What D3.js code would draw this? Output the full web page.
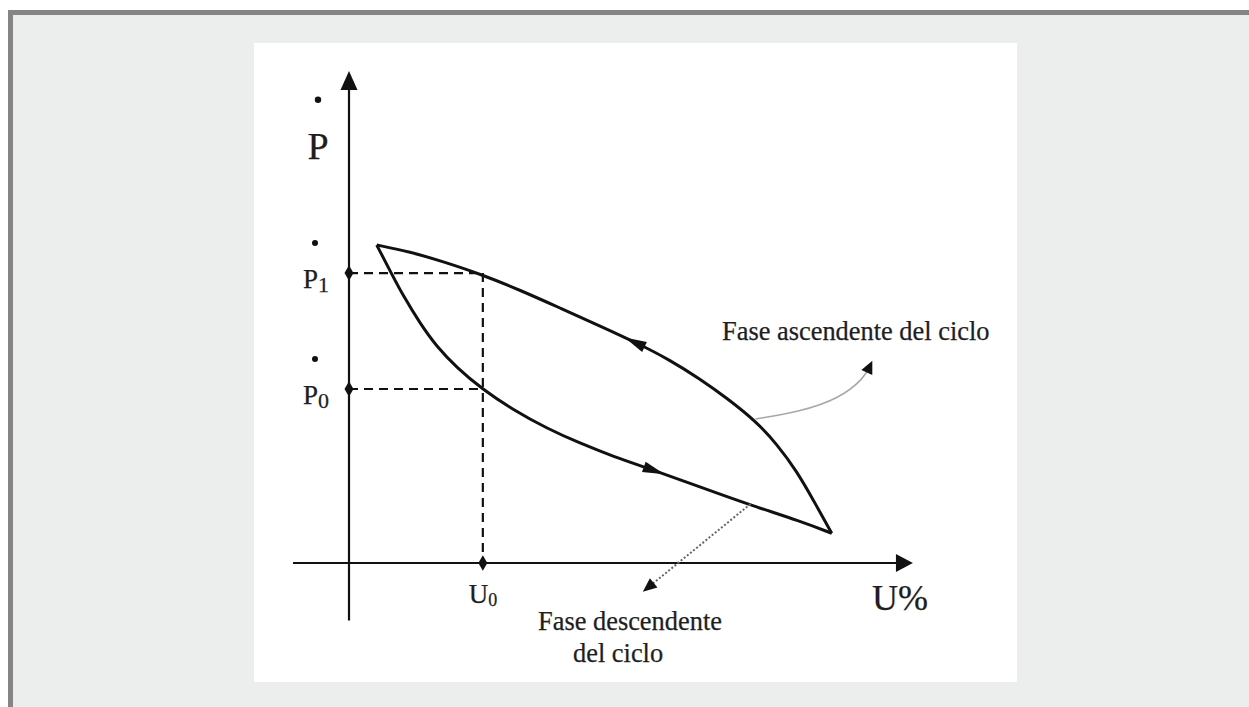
<!DOCTYPE html>
<html>
<head>
<meta charset="utf-8">
<script src="https://cdn.jsdelivr.net/npm/d3@7"></script>
<style>
html,body{margin:0;padding:0;background:#fff;}
svg{display:block;}
text{font-family:"Liberation Serif","DejaVu Serif",serif;fill:#1e1e1e;stroke:#1e1e1e;stroke-width:0.25;}
</style>
</head>
<body>
<svg id="chart" width="1249" height="707"></svg>
<script>
// ---- data (in chart units: U% on x, P on y, both 0..100) ----
const ascendingX = [4.95, 10.89, 16.84, 23.70, 30.54, 37.68, 44.82, 51.43, 57.32, 62.68, 67.45, 72.80, 76.38, 79.95, 82.91, 86.20];
const ascendingY = [66.25, 64.85, 62.77, 60.10, 56.85, 53.13, 49.38, 45.83, 42.29, 38.33, 34.38, 29.38, 24.79, 19.17, 13.13, 6.19];
const descendingX = [4.95, 7.63, 9.70, 12.68, 15.66, 19.23, 23.70, 29.34, 35.30, 41.25, 47.20, 54.34, 62.68, 71.61, 80.54, 86.20];
const descendingY = [66.25, 60.21, 55.63, 49.94, 45.06, 40.73, 36.30, 31.88, 28.06, 24.94, 22.19, 19.38, 15.83, 12.08, 8.75, 6.19];
const refU = [23.9];            // U0
const refP = [60.4, 36.25];     // P1, P0
const yTickNames = ["P", "P"];
const yTickSubs = ["1", "0"];
const xTickNames = ["U"];
const xTickSubs = ["0"];
const axisTitles = ["P", "U%"];
const annoLabels = ["Fase ascendente del ciclo", "Fase descendente", "del ciclo"];
// annotation leader anchors (chart units)
const ascLeaderX = [72.6, 80.5, 87.5, 92.0, 93.0];
const ascLeaderY = [30.0, 31.5, 34.2, 38.5, 41.0];
const descLeaderX = [71.7, 53.3];
const descLeaderY = [12.3, -5.2];

const svg = d3.select("#chart");
const W = 1249, H = 707;

// background & frame
svg.append("rect").attr("x", 0).attr("y", 0).attr("width", W).attr("height", H).attr("fill", "#ffffff");
svg.append("rect").attr("x", 10.5).attr("y", 12.5).attr("width", W + 20).attr("height", H + 20)
  .attr("fill", "#eceeed").attr("stroke", "#858585").attr("stroke-width", 5);
svg.append("rect").attr("x", 254).attr("y", 43).attr("width", 763).attr("height", 639).attr("fill", "#ffffff");

const x = d3.scaleLinear().domain([0, 100]).range([349, 909]);
const y = d3.scaleLinear().domain([0, 100]).range([563, 83]);

const ink = "#111";
const g = svg.append("g");

// axes
g.append("line").attr("x1", x(0)).attr("x2", x(0)).attr("y1", y(-12)).attr("y2", y(100))
  .attr("stroke", ink).attr("stroke-width", 2.2);
g.append("line").attr("x1", x(-10)).attr("x2", x(99)).attr("y1", y(0)).attr("y2", y(0))
  .attr("stroke", ink).attr("stroke-width", 2.2);
// axis arrowheads
const yTip = [x(0), y(102.5)];
g.append("path").attr("d", `M${yTip[0]},${yTip[1]} L${yTip[0]-8.5},${yTip[1]+19} L${yTip[0]+8.5},${yTip[1]+19} Z`).attr("fill", ink);
const xTip = [x(100.7), y(0)];
g.append("path").attr("d", `M${xTip[0]},${xTip[1]} L${xTip[0]-17},${xTip[1]-9} L${xTip[0]-17},${xTip[1]+9} Z`).attr("fill", ink);

// dashed reference lines
refP.forEach(p => {
  g.append("line").attr("x1", x(0)).attr("x2", x(refU[0])).attr("y1", y(p)).attr("y2", y(p))
    .attr("stroke", ink).attr("stroke-width", 2.2).attr("stroke-dasharray", "9,6");
});
g.append("line").attr("x1", x(refU[0])).attr("x2", x(refU[0])).attr("y1", y(refP[0])).attr("y2", y(0))
  .attr("stroke", ink).attr("stroke-width", 2.2).attr("stroke-dasharray", "9,6");

// diamond markers on axes
const diamond = d3.symbol().type(d3.symbolDiamond).size(70);
refP.forEach(p => g.append("path").attr("d", diamond).attr("transform", `translate(${x(0)},${y(p)})`).attr("fill", ink));
refU.forEach(u => g.append("path").attr("d", diamond).attr("transform", `translate(${x(u)},${y(0)})`).attr("fill", ink));

// loop curves
const line = d3.line().x(d => x(d[0])).y(d => y(d[1])).curve(d3.curveBasis);
const ascPts = ascendingX.map((v, i) => [v, ascendingY[i]]);
const descPts = descendingX.map((v, i) => [v, descendingY[i]]);
const ascPath = g.append("path").attr("d", line(ascPts)).attr("fill", "none").attr("stroke", ink).attr("stroke-width", 3).attr("stroke-linejoin", "round");
const descPath = g.append("path").attr("d", line(descPts)).attr("fill", "none").attr("stroke", ink).attr("stroke-width", 3).attr("stroke-linejoin", "round");

// direction arrowheads on curves
function arrowOnPath(pathSel, frac, reverse, len, wid) {
  const node = pathSel.node();
  const L = node.getTotalLength();
  const p = node.getPointAtLength(L * frac);
  const q = node.getPointAtLength(L * frac + (reverse ? -1 : 1) * 4);
  const ang = Math.atan2(q.y - p.y, q.x - p.x) * 180 / Math.PI;
  g.append("path").attr("d", `M${len/2},0 L${-len/2},${-wid/2} L${-len/2},${wid/2} Z`)
    .attr("transform", `translate(${p.x},${p.y}) rotate(${ang})`).attr("fill", ink);
}
function fracAtX(node, px) {
  const L = node.getTotalLength();
  let lo = 0, hi = L;
  for (let i = 0; i < 40; i++) { const m = (lo + hi) / 2; if (node.getPointAtLength(m).x < px) lo = m; else hi = m; }
  return lo / L;
}
// ascending phase travels from bottom-right to top-left
arrowOnPath(ascPath, fracAtX(ascPath.node(), x(51.0)), true, 22, 11);
arrowOnPath(descPath, fracAtX(descPath.node(), x(54.5)), false, 22, 11);

// annotation leaders
const leader = d3.line().x(d => x(d[0])).y(d => y(d[1])).curve(d3.curveBasis);
const ascL = ascLeaderX.map((v, i) => [v, ascLeaderY[i]]);
g.append("path").attr("d", leader(ascL)).attr("fill", "none").attr("stroke", "#a8a8a8").attr("stroke-width", 1.6);
{
  const a = ascL[ascL.length - 2], b = ascL[ascL.length - 1];
  const ang = Math.atan2(y(b[1]) - y(a[1]), x(b[0]) - x(a[0])) * 180 / Math.PI;
  g.append("path").attr("d", "M6,0 L-7,-6 L-7,6 Z").attr("transform", `translate(${x(b[0])},${y(b[1])}) rotate(${ang})`).attr("fill", ink);
}
g.append("line").attr("x1", x(descLeaderX[0])).attr("y1", y(descLeaderY[0]))
  .attr("x2", x(descLeaderX[1])).attr("y2", y(descLeaderY[1]))
  .attr("stroke", "#666").attr("stroke-width", 2).attr("stroke-dasharray", "2,2");
{
  const ang = Math.atan2(y(descLeaderY[1]) - y(descLeaderY[0]), x(descLeaderX[1]) - x(descLeaderX[0])) * 180 / Math.PI;
  g.append("path").attr("d", "M6,0 L-8,-6 L-8,6 Z").attr("transform", `translate(${x(descLeaderX[1])},${y(descLeaderY[1])}) rotate(${ang})`).attr("fill", ink);
}

// axis titles with rate dot
g.append("circle").attr("cx", x(0) - 31).attr("cy", y(96.5)).attr("r", 3.2).attr("fill", ink);
g.append("text").attr("x", x(0) - 31).attr("y", y(84.2)).attr("text-anchor", "middle").attr("font-size", 38).text(axisTitles[0]);
g.append("text").attr("x", 872).attr("y", 610).attr("font-size", 36).text(axisTitles[1]);

// y tick labels (P1, P0) with dots
refP.forEach((p, i) => {
  g.append("circle").attr("cx", x(0) - 34).attr("cy", y(p) - 30).attr("r", 3).attr("fill", ink);
  const t = g.append("text").attr("x", x(0) - 46).attr("y", y(p) + 15).attr("font-size", 27);
  t.append("tspan").text(yTickNames[i]);
  t.append("tspan").attr("font-size", 22).attr("dy", 4).text(yTickSubs[i]);
});
// x tick label U0
refU.forEach((u, i) => {
  const t = g.append("text").attr("x", x(u) - 14).attr("y", y(0) + 40).attr("font-size", 27);
  t.append("tspan").text(xTickNames[i]);
  t.append("tspan").attr("font-size", 18).attr("dy", 3).text(xTickSubs[i]);
});

// annotation labels
g.append("text").attr("x", 722).attr("y", 340).attr("font-size", 26.4).text(annoLabels[0]);
g.append("text").attr("x", 538).attr("y", 630).attr("font-size", 26.4).text(annoLabels[1]);
g.append("text").attr("x", 573).attr("y", 662).attr("font-size", 26.4).text(annoLabels[2]);
</script>
</body>
</html>
